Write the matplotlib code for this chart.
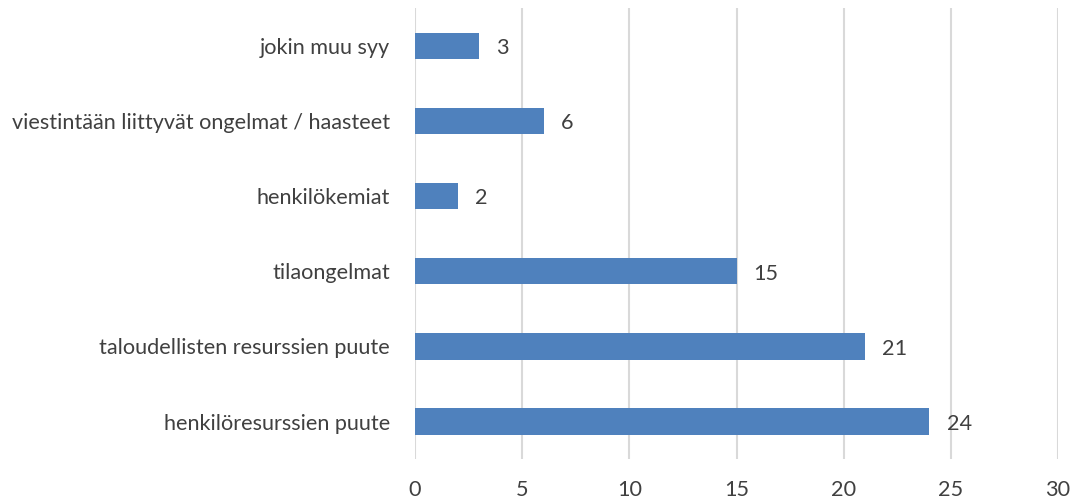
import matplotlib
matplotlib.use('Agg')
import matplotlib.pyplot as plt

# data
syyt = ['henkilöresurssien puute', 'taloudellisten resurssien puute', 'tilaongelmat',
        'henkilökemiat', 'viestintään liittyvät ongelmat / haasteet', 'jokin muu syy']
maarat = [24, 21, 15, 2, 6, 3]
xtiks = [0, 5, 10, 15, 20, 25, 30]

plt.rcParams['font.family'] = ['Lato', 'DejaVu Sans']
fs = 15.6

fig = plt.figure(figsize=(10.76, 4.99), dpi=100)
ax = fig.add_axes([0.3857, 0.08, 0.5976, 0.903])

pos = list(range(len(syyt)))
ax.barh(pos, maarat, height=0.35, color='#4F81BD', zorder=3)
for p, v in zip(pos, maarat):
    ax.text(v + 0.8, p - 0.03, str(v), va='center', ha='left', fontsize=fs, color='#404040')

ax.set_xlim(0, 30)
ax.set_ylim(-0.5, len(syyt) - 0.5)
ax.set_xticks(xtiks)
ax.set_yticks(pos)
ax.set_yticklabels(syyt)
ax.tick_params(axis='both', length=0, labelsize=fs, labelcolor='#404040')
ax.tick_params(axis='x', pad=15)
ax.tick_params(axis='y', pad=18)
ax.grid(axis='x', color='#D9D9D9', linewidth=1.5, zorder=0)
for s in ax.spines.values():
    s.set_visible(False)

fig.savefig('out.png', dpi=100)
